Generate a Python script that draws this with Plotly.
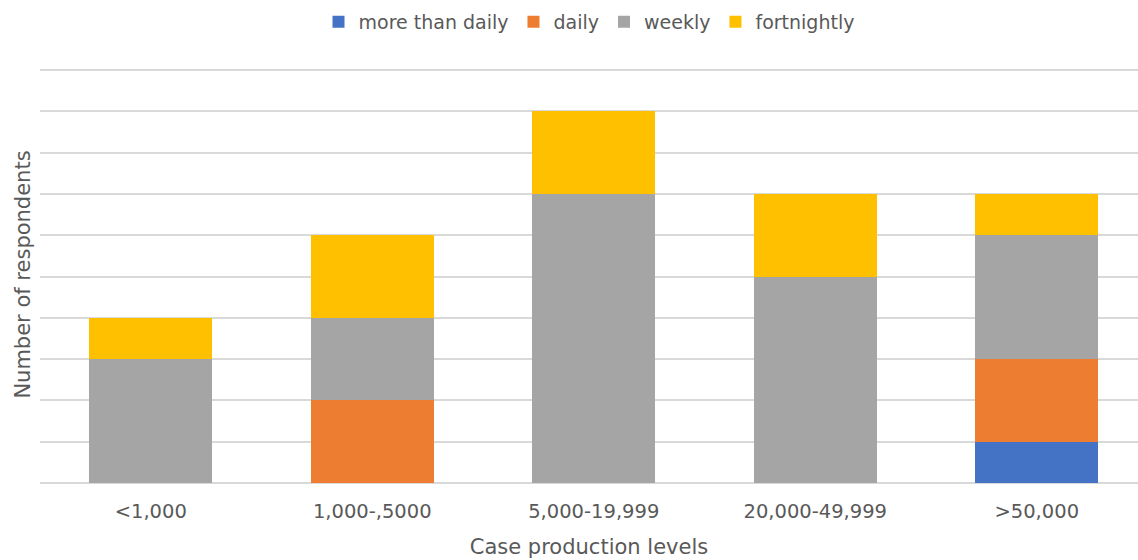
import plotly.graph_objects as go

categories = ["<1,000", "1,000-,5000", "5,000-19,999", "20,000-49,999", ">50,000"]
more_than_daily = [0, 0, 0, 0, 1]
daily = [0, 2, 0, 0, 2]
weekly = [3, 2, 7, 5, 3]
fortnightly = [1, 2, 2, 2, 1]

series = [
    ("more than daily", more_than_daily, "#4472C4"),
    ("daily", daily, "#ED7D31"),
    ("weekly", weekly, "#A5A5A5"),
    ("fortnightly", fortnightly, "#FFC000"),
]

FONT = "DejaVu Sans, sans-serif"
TEXT = "#595959"

fig = go.Figure()
for name, vals, color in series:
    fig.add_trace(go.Bar(
        x=list(range(len(categories))), y=vals, name=name,
        marker=dict(color=color, line=dict(width=0)),
    ))

fig.update_layout(
    barmode="stack",
    bargap=0.445,
    width=1138, height=560,
    margin=dict(l=40, r=0, t=66, b=77),
    paper_bgcolor="white", plot_bgcolor="white",
    font=dict(family=FONT, size=18, color=TEXT),
    legend=dict(orientation="h", x=0.5, xanchor="center", y=0.995, yref="container",
                yanchor="top", font=dict(size=19, color=TEXT), traceorder="normal",
                itemwidth=30, tracegroupgap=0),
    showlegend=True,
)
fig.update_xaxes(
    tickmode="array", tickvals=list(range(len(categories))), ticktext=categories,
    range=[-0.5, -0.5 + 1098 / 221.5],
    showgrid=False, zeroline=False, showline=False, ticks="",
    tickfont=dict(size=19.5, color=TEXT), ticklabelstandoff=14,
    title=dict(text="Case production levels", font=dict(size=21, color=TEXT), standoff=17),
)
fig.update_yaxes(
    range=[0, 10.1], tickvals=list(range(0, 11)), showticklabels=False,
    showgrid=True, gridcolor="#D9D9D9", gridwidth=1.5,
    zeroline=True, zerolinecolor="#D9D9D9", zerolinewidth=1.5,
    title=dict(text="Number of respondents", font=dict(size=21, color=TEXT), standoff=2),
)

fig.write_html("out.html")
